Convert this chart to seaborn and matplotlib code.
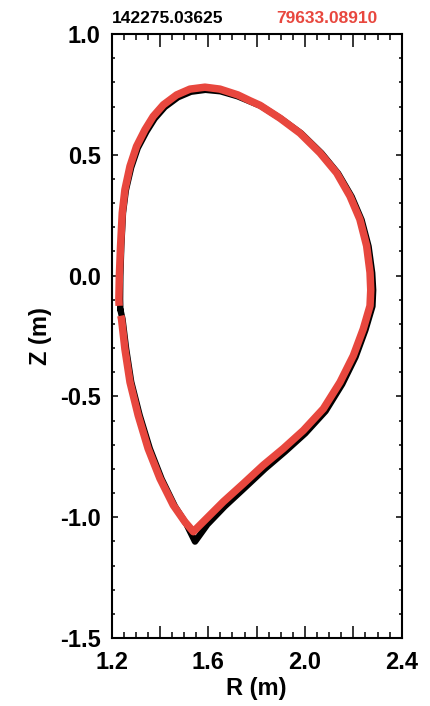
import numpy as np
import pandas as pd
import matplotlib
matplotlib.use("Agg")
import matplotlib.pyplot as plt
from matplotlib.ticker import MultipleLocator, FuncFormatter
import seaborn as sns

# boundary of shot 142275 (black), closed
black_r = [1.236, 1.235, 1.236, 1.240, 1.247, 1.259, 1.281, 1.308, 1.344, 1.378,
           1.420, 1.474, 1.528, 1.588, 1.650, 1.722, 1.818, 1.900, 1.984, 2.068,
           2.137, 2.193, 2.234, 2.263, 2.278, 2.282, 2.279, 2.250, 2.209, 2.154,
           2.085, 2.001, 1.917, 1.834, 1.751, 1.667, 1.596, 1.545, 1.510, 1.462,
           1.407, 1.358, 1.316, 1.281, 1.260, 1.245, 1.236]
black_z = [-0.140, -0.097, -0.001, 0.123, 0.260, 0.354, 0.448, 0.528, 0.596, 0.650,
           0.698, 0.738, 0.761, 0.769, 0.763, 0.742, 0.702, 0.650, 0.589, 0.507,
           0.423, 0.327, 0.231, 0.121, 0.011, -0.060, -0.127, -0.225, -0.337, -0.449,
           -0.561, -0.653, -0.729, -0.800, -0.878, -0.956, -1.030, -1.101, -1.030, -0.955,
           -0.842, -0.716, -0.578, -0.440, -0.303, -0.180, -0.140]

# boundary of shot 79633 (red), open at the inner midplane
red_r = [1.231, 1.230, 1.232, 1.237, 1.244, 1.255, 1.276, 1.303, 1.338, 1.372,
         1.414, 1.469, 1.524, 1.586, 1.648, 1.722, 1.772, 1.814, 1.896, 1.979,
         2.062, 2.131, 2.186, 2.227, 2.255, 2.269, 2.272, 2.269, 2.241, 2.200,
         2.145, 2.076, 1.993, 1.910, 1.827, 1.745, 1.662, 1.593, 1.538, 1.503,
         1.455, 1.400, 1.351, 1.310, 1.276, 1.255, 1.241, 1.238]
red_z = [-0.125, -0.097, -0.001, 0.123, 0.260, 0.356, 0.453, 0.535, 0.604, 0.659,
         0.707, 0.748, 0.772, 0.780, 0.772, 0.748, 0.724, 0.705, 0.652, 0.590,
         0.508, 0.425, 0.329, 0.233, 0.123, 0.013, -0.060, -0.125, -0.221, -0.331,
         -0.441, -0.551, -0.641, -0.716, -0.785, -0.861, -0.936, -1.005, -1.060, -1.019,
         -0.950, -0.840, -0.716, -0.579, -0.441, -0.304, -0.180, -0.166]

shot_black = "142275.03625"
shot_red = "79633.08910"
red = "#e8473e"

sns.set_style("ticks")
plt.rcParams['font.family'] = ['Liberation Sans', 'DejaVu Sans']
plt.rcParams['font.weight'] = 'bold'
for key in ['text.color', 'axes.labelcolor', 'xtick.color', 'ytick.color']:
    plt.rcParams[key] = 'black'

fig = plt.figure(figsize=(4.31, 7.06), dpi=100)
ax = fig.add_axes([0.259, 0.0963, 0.673, 0.8555])

df_black = pd.DataFrame({"R": black_r, "Z": black_z})
df_red = pd.DataFrame({"R": red_r, "Z": red_z})
sns.lineplot(data=df_black, x="R", y="Z", sort=False, estimator=None,
             color="black", linewidth=4.6, ax=ax, legend=False,
             solid_joinstyle='round')
sns.lineplot(data=df_red, x="R", y="Z", sort=False, estimator=None,
             color=red, linewidth=5.4, ax=ax, legend=False,
             solid_joinstyle='round', solid_capstyle='butt')

ax.set_xlim(1.2, 2.4)
ax.set_ylim(-1.5, 1.0)

ax.xaxis.set_major_locator(MultipleLocator(0.2))
ax.xaxis.set_minor_locator(MultipleLocator(0.05))
ax.xaxis.set_major_formatter(FuncFormatter(
    lambda v, p: f"{v:.1f}" if abs(round(v / 0.4) * 0.4 - v) < 1e-6 else ""))
ax.yaxis.set_major_locator(MultipleLocator(0.5))
ax.yaxis.set_minor_locator(MultipleLocator(0.1))
ax.yaxis.set_major_formatter(FuncFormatter(lambda v, p: f"{v:.1f}"))

ax.tick_params(axis='x', which='major', direction='in', length=9, width=1.1,
               top=True, bottom=True, labelsize=17, pad=9)
ax.tick_params(axis='x', which='minor', direction='in', length=4, width=1.1,
               top=True, bottom=True)
ax.tick_params(axis='y', which='major', direction='in', length=4, width=1.1,
               left=True, right=True, labelsize=17, pad=8)
ax.tick_params(axis='y', which='minor', direction='in', length=2, width=1.1,
               left=True, right=True)
for lbl in ax.get_xticklabels() + ax.get_yticklabels():
    lbl.set_fontweight('bold')

for s in ax.spines.values():
    s.set_visible(True)
    s.set_linewidth(1.5)
    s.set_color("black")

ax.set_xlabel("R (m)", fontsize=17, fontweight='bold')
ax.set_ylabel("Z (m)", fontsize=17, fontweight='bold')
ax.xaxis.set_label_coords(0.5, -0.064)
ax.xaxis.label.set_va('top')
ax.yaxis.set_label_coords(-0.206, 0.5)

fig.text(0.39, 0.9745, shot_black, color="black", fontsize=12.5,
         fontweight='bold', ha='center', va='center')
fig.text(0.758, 0.9745, shot_red, color=red, fontsize=12.5,
         fontweight='bold', ha='center', va='center')

fig.savefig("out.png", dpi=100)
